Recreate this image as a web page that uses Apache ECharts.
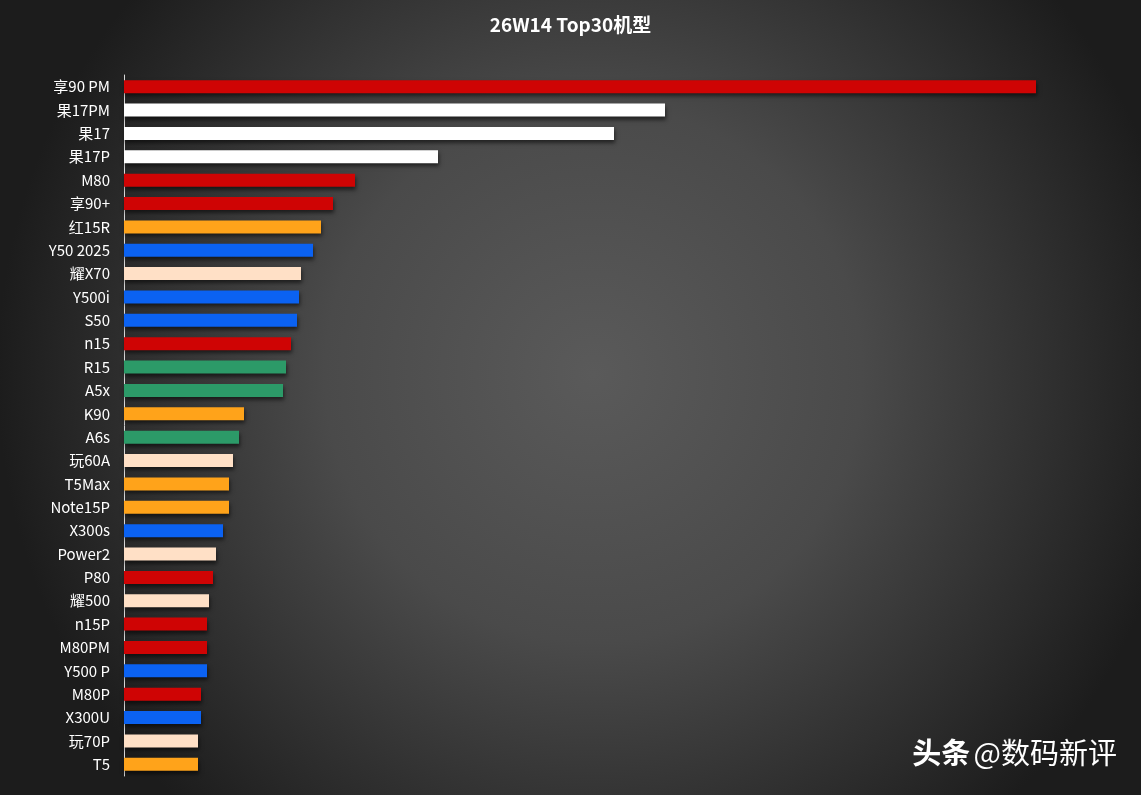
<!DOCTYPE html>
<html>
<head>
<meta charset="utf-8">
<script src="https://cdn.jsdelivr.net/npm/echarts@6/dist/echarts.min.js"></script>
<style>
html,body{margin:0;padding:0;background:#1e1e1e;}
#c{width:1141px;height:795px;}
</style>
</head>
<body>
<div id="c"></div>
<script>
const titleText = '26W14 Top30机型';
const categories = ['享90 PM','果17PM','果17','果17P','M80','享90+','红15R','Y50 2025','耀X70','Y500i','S50','n15','R15','A5x','K90','A6s','玩60A','T5Max','Note15P','X300s','Power2','P80','耀500','n15P','M80PM','Y500 P','M80P','X300U','玩70P','T5'];
const values = [912,541,490,314,231,209,197,189,177,175,173,167,162,159,120,115,109,105,105,99,92,89,85,83,83,83,77,77,74,74];
const brands = ['red','white','white','white','red','red','orange','blue','peach','blue','blue','red','green','green','orange','green','peach','orange','orange','blue','peach','red','peach','red','red','blue','red','blue','peach','orange'];
const brandColors = {red:'#cf0404', white:'#ffffff', orange:'#ffa31a', blue:'#0b62f2', peach:'#ffe0c6', green:'#2c9a68'};

const chart = echarts.init(document.getElementById('c'));
chart.setOption({
  backgroundColor: {
    type:'radial', x:0.52, y:0.47, r:0.75,
    colorStops:[{offset:0,color:'#5a5a5a'},{offset:0.45,color:'#4a4a4a'},{offset:1,color:'#1c1c1c'}]
  },
  title:{
    text:titleText, left:'center', top:10,
    textStyle:{color:'#ffffff', fontSize:19, fontWeight:'bold', fontFamily:'"Noto Sans CJK SC", sans-serif'}
  },
  grid:{left:124, right:17, top:75, bottom:19, containLabel:false},
  xAxis:{type:'value', min:0, max:1000, show:false},
  yAxis:{
    type:'category', data:categories, inverse:true,
    axisLine:{show:true, lineStyle:{color:'#d8d8d8', width:1}},
    axisTick:{show:false},
    axisLabel:{color:'#ffffff', fontSize:15, margin:14, fontFamily:'"Noto Sans CJK SC", sans-serif'}
  },
  series:[{
    type:'bar',
    data: values.map((v,i)=>({value:v, itemStyle:{color:brandColors[brands[i]]}})),
    barWidth:13,
    itemStyle:{shadowColor:'rgba(0,0,0,0.55)', shadowBlur:4, shadowOffsetY:3, shadowOffsetX:1},
    silent:true,
    animation:false
  }],
  graphic:[{
    type:'text', right:24, top:738,
    style:{
      rich:{
        a:{fontSize:29, fontWeight:'bold', fill:'#ffffff', fontFamily:'"Noto Sans CJK SC", sans-serif'},
        b:{fontSize:29, fill:'#ffffff', fontFamily:'"Noto Sans CJK SC", sans-serif'}
      },
      text:'{a|头条} {b|@数码新评}',
      fill:'#ffffff',
      shadowColor:'rgba(0,0,0,0.9)', shadowBlur:3, shadowOffsetX:1, shadowOffsetY:1
    }
  }],
  animation:false
});
</script>
</body>
</html>
